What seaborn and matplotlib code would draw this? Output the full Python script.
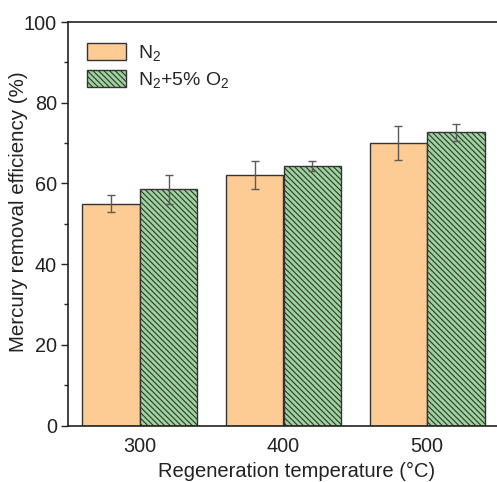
import matplotlib
matplotlib.use("Agg")
import matplotlib.pyplot as plt
import seaborn as sns
import pandas as pd
from matplotlib.ticker import MultipleLocator

temperatures = ["300", "400", "500"]
atmospheres = [r"N$_2$", r"N$_2$+5% O$_2$"]
eff_n2 = [55.0, 62.1, 70.1]
err_n2 = [2.2, 3.5, 4.2]
eff_n2_o2 = [58.5, 64.3, 72.7]
err_n2_o2 = [3.5, 1.3, 2.1]

sns.set_theme(style="ticks")
plt.rcParams["font.family"] = ["Liberation Sans", "DejaVu Sans"]
plt.rcParams["mathtext.fontset"] = "custom"
plt.rcParams["mathtext.rm"] = "Liberation Sans"
plt.rcParams["mathtext.it"] = "Liberation Sans:italic"
plt.rcParams["hatch.linewidth"] = 0.8

df = pd.DataFrame({
    "Temperature": temperatures * 2,
    "Atmosphere": [atmospheres[0]] * 3 + [atmospheres[1]] * 3,
    "Efficiency": eff_n2 + eff_n2_o2,
})
errors = err_n2 + err_n2_o2

fig = plt.figure(figsize=(4.97, 4.82), dpi=100)
ax = fig.add_axes([68 / 497, (482 - 425.5) / 482, (499 - 68) / 497, (425.5 - 22) / 482])

palette = {atmospheres[0]: "#FDCB94", atmospheres[1]: "#9CD59C"}
sns.barplot(data=df, x="Temperature", y="Efficiency", hue="Atmosphere",
            order=temperatures, hue_order=atmospheres, palette=palette,
            errorbar=None, width=0.8, edgecolor="#333333", linewidth=1.0,
            saturation=1.0, ax=ax)

# dense diagonal hatch on the N2+O2 series
hatch = "\\" * 6
bars = ax.patches[:6]
for bar in bars[3:]:
    bar.set_hatch(hatch)

# error bars at bar centres
for bar, val, err in zip(bars, df["Efficiency"], errors):
    cx = bar.get_x() + bar.get_width() / 2
    ax.errorbar(cx, val, yerr=err, fmt="none", ecolor="#5a5a5a",
                elinewidth=1.0, capsize=3, capthick=1.0, zorder=5)

ax.set_xlim(-0.5, 2.5)
ax.set_ylim(0, 100)
ax.yaxis.set_major_locator(MultipleLocator(20))
ax.yaxis.set_minor_locator(MultipleLocator(10))
ax.tick_params(axis="y", which="major", direction="out", length=5, width=1,
               labelsize=14.3, colors="#222222", pad=3)
ax.tick_params(axis="y", which="minor", direction="out", length=3, width=1,
               colors="#222222")
ax.tick_params(axis="x", length=0, labelsize=14.3, pad=8, colors="#222222")

for side in ["left", "bottom", "top", "right"]:
    ax.spines[side].set_visible(True)
    ax.spines[side].set_color("#222222")
    ax.spines[side].set_linewidth(1.2)

ax.set_xlabel("Regeneration temperature (°C)", fontsize=14.5, color="#222222")
ax.set_ylabel("Mercury removal efficiency (%)", fontsize=14.8, color="#222222")
ax.xaxis.set_label_coords(0.531, -0.09)
ax.yaxis.set_label_coords(-0.092, 0.529)

handles, labels = ax.get_legend_handles_labels()
if len(handles) >= 2:
    handles[1].set_hatch(hatch)
ax.legend(handles, labels, loc="upper left", bbox_to_anchor=(0.003, 0.992),
          frameon=False, fontsize=14, handlelength=2.0, handleheight=1.0,
          handletextpad=0.65, labelspacing=0.35, borderpad=0.4)

fig.savefig("out.png", dpi=100)
